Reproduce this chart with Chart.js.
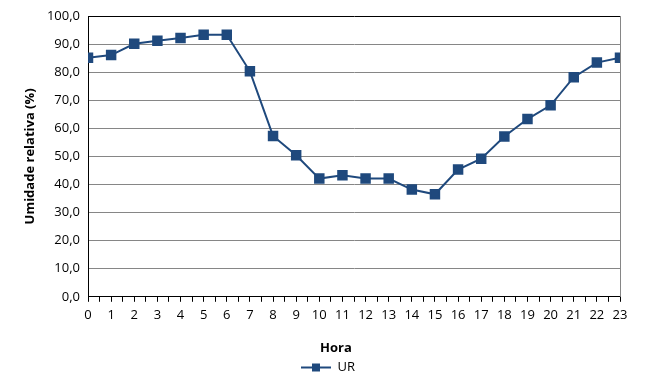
<!DOCTYPE html>
<html>
<head>
<meta charset="utf-8">
<script src="https://cdn.jsdelivr.net/npm/chart.js@4"></script>
<style>
  html, body { margin: 0; padding: 0; background: #fff; }
  #wrap { width: 665px; height: 386px; }
</style>
</head>
<body>
<div id="wrap"><canvas id="urChart" width="665" height="386"></canvas></div>
<script>
// === Dados ===
const horas = [0, 1, 2, 3, 4, 5, 6, 7, 8, 9, 10, 11, 12, 13, 14, 15, 16, 17, 18, 19, 20, 21, 22, 23];
const umidade = [85.1, 86.1, 90.1, 91.2, 92.2, 93.3, 93.3, 80.3, 57.3, 50.4, 42.1, 43.3, 42.1, 42.1, 38.2, 36.5, 45.3, 49.2, 57.1, 63.3, 68.2, 78.2, 83.4, 85.1];
const yTicks = [0, 10, 20, 30, 40, 50, 60, 70, 80, 90, 100];

const azul = '#1F497D';
const fonte = "'Open Sans', 'DejaVu Sans', sans-serif";

// marcador da legenda: linha com quadrado
const legendMark = document.createElement('canvas');
legendMark.width = 30;
legendMark.height = 10;
const lm = legendMark.getContext('2d');
lm.strokeStyle = azul;
lm.lineWidth = 2;
lm.beginPath();
lm.moveTo(0, 5);
lm.lineTo(30, 5);
lm.stroke();
lm.fillStyle = azul;
lm.fillRect(11, 1, 8, 8);

const ctx = document.getElementById('urChart').getContext('2d');
new Chart(ctx, {
  type: 'line',
  data: {
    datasets: [{
      label: 'UR',
      data: horas.map((h, i) => ({ x: h, y: umidade[i] })),
      borderColor: azul,
      backgroundColor: azul,
      borderWidth: 2,
      pointStyle: 'rect',
      pointRadius: 6,
      pointHoverRadius: 6,
      tension: 0
    }]
  },
  options: {
    responsive: false,
    animation: false,
    layout: { padding: { top: 16, right: 45, left: 6, bottom: 2 } },
    plugins: {
      tooltip: { enabled: false },
      legend: {
        position: 'bottom',
        labels: {
          usePointStyle: true,
          pointStyleWidth: 30,
          font: { family: fonte, size: 13 },
          color: '#000',
          padding: 4,
          generateLabels: chart => [{
            text: 'UR',
            pointStyle: legendMark,
            fillStyle: azul,
            strokeStyle: azul,
            lineWidth: 0,
            datasetIndex: 0
          }]
        }
      }
    },
    scales: {
      x: {
        type: 'linear',
        min: 0,
        max: 23,
        afterBuildTicks: scale => {
          const t = [];
          for (let v = 0; v <= 23; v += 0.5) t.push({ value: v });
          scale.ticks = t;
        },
        ticks: {
          autoSkip: false,
          maxRotation: 0,
          color: '#000',
          font: { family: fonte, size: 13 },
          padding: 6,
          callback: v => Number.isInteger(v) ? String(v) : ''
        },
        grid: {
          drawOnChartArea: false,
          drawTicks: true,
          tickLength: 5,
          color: '#000'
        },
        border: { color: '#000', width: 1 },
        title: {
          // reserva o espaço; o texto é desenhado no plugin, centralizado na página
          display: true,
          text: 'Hora',
          color: 'rgba(0,0,0,0)',
          font: { family: fonte, size: 13, weight: 'bold' },
          padding: { top: 11, bottom: 1 }
        }
      },
      y: {
        min: 0,
        max: 100,
        afterBuildTicks: scale => {
          scale.ticks = yTicks.map(v => ({ value: v }));
        },
        afterFit: scale => { scale.width = 82; },
        ticks: {
          color: '#000',
          font: { family: fonte, size: 13 },
          padding: 8,
          callback: v => v.toFixed(1).replace('.', ',')
        },
        grid: {
          drawTicks: false,
          color: ctx => ctx.tick && ctx.tick.value === 100 ? '#000' : '#868686',
          lineWidth: 1
        },
        border: { color: '#000', width: 1 },
        title: {
          display: true,
          text: 'Umidade relativa (%)',
          color: '#000',
          font: { family: fonte, size: 13, weight: 'bold' },
          padding: { top: 16, bottom: 6 }
        }
      }
    }
  },
  plugins: [{
    id: 'ajustes',
    afterLayout: chart => {
      // centraliza a legenda na largura toda
      if (chart.legend) {
        chart.legend.left += 15;
        chart.legend.right += 15;
      }
    },
    afterDraw: chart => {
      const a = chart.chartArea;
      const c = chart.ctx;
      c.save();
      c.strokeStyle = '#868686';
      c.lineWidth = 1;
      c.beginPath();
      c.moveTo(Math.round(a.right) + 0.5, a.top);
      c.lineTo(Math.round(a.right) + 0.5, a.bottom);
      c.stroke();

      // título do eixo x
      const sx = chart.scales.x;
      c.fillStyle = '#000';
      c.font = 'bold 13px ' + fonte;
      c.textAlign = 'center';
      c.textBaseline = 'middle';
      c.fillText('Hora', 336, sx.bottom - 1 - 7.8);
      c.restore();
    }
  }]
});
</script>
</body>
</html>
